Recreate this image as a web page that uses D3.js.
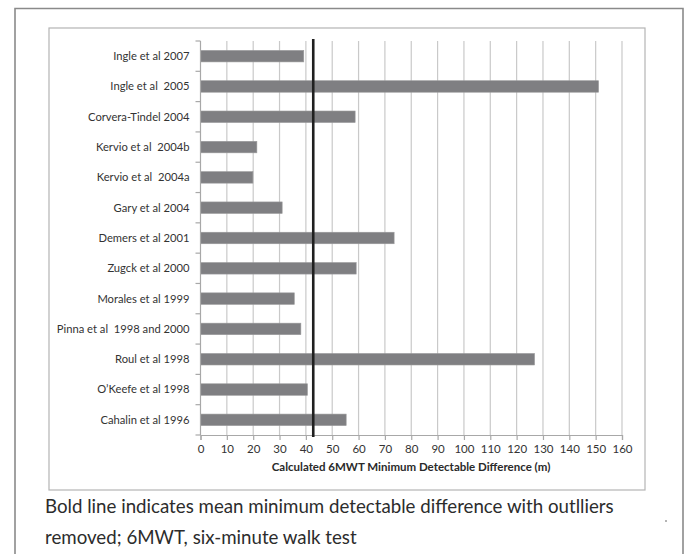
<!DOCTYPE html>
<html><head><meta charset="utf-8">
<script src="https://cdn.jsdelivr.net/npm/d3@7"></script>
<style>body{margin:0;background:#fff}svg{display:block}</style>
</head><body>
<svg id="c" width="687" height="554"></svg>
<script>
const studies = ["Ingle et al 2007","Ingle et al  2005","Corvera-Tindel 2004","Kervio et al  2004b","Kervio et al  2004a","Gary et al 2004","Demers et al 2001","Zugck et al 2000","Morales et al 1999","Pinna et al  1998 and 2000","Roul et al 1998","O\u2019Keefe et al 1998","Cahalin et al 1996"];
const mdd = [39.2,151.1,58.7,21.4,19.9,31.0,73.5,59.1,35.6,38.1,126.8,40.6,55.3];
const meanMDD = 42.8;
const xTicks = [0,10,20,30,40,50,60,70,80,90,100,110,120,130,140,150,160];
const xTitle = "Calculated 6MWT Minimum Detectable Difference (m)";
const caption = ["Bold line indicates mean minimum detectable difference with outlliers","removed; 6MWT, six-minute walk test"];

const svg = d3.select("#c");
svg.append("path").attr("d","M15,560 V8.5 H683 V560").attr("fill","none").attr("stroke","#8a8a8a").attr("stroke-width",1.6);
svg.append("rect").attr("x",49).attr("y",28).attr("width",596).attr("height",462).attr("fill","#fff").attr("stroke","#b4b4b4").attr("stroke-width",1.2);

const x = d3.scaleLinear().domain([0,160]).range([200.5,622]);
const yStep = d3.scaleBand().domain(studies).range([41,435]).padding(0);
const yBar = d3.scaleBand().domain(studies).range([41,435]).paddingInner(0.62).paddingOuter(0.31);

const font = "Lato, 'Open Sans', sans-serif";
svg.append("g").selectAll("line").data(xTicks.slice(1)).join("line")
  .attr("x1",d=>x(d)).attr("x2",d=>x(d)).attr("y1",41).attr("y2",435)
  .attr("stroke","#c9c9c9").attr("stroke-width",1.2);

svg.append("g").selectAll("rect").data(studies).join("rect")
  .attr("x",x(0)).attr("y",d=>yBar(d)).attr("height",yBar.bandwidth())
  .attr("width",(d,i)=>x(mdd[i])-x(0))
  .attr("fill","#7f7f82").attr("stroke","#9a9a9c").attr("stroke-width",0.6);

const xa = svg.append("g").attr("transform","translate(0,435)")
  .call(d3.axisBottom(x).tickValues(xTicks).tickSize(5).tickPadding(5).tickFormat(d3.format("d")));
xa.select(".domain").attr("stroke","#a8a8a8").attr("stroke-width",1.2);
xa.selectAll(".tick line").attr("stroke","#a8a8a8").attr("stroke-width",1.2);
xa.selectAll("text").attr("font-family",font).attr("font-size",11.5).attr("fill","#333");

const ya = svg.append("g").attr("transform","translate(200.5,0)");
ya.append("line").attr("x1",0).attr("x2",0).attr("y1",41).attr("y2",435).attr("stroke","#a8a8a8").attr("stroke-width",1.2);
ya.selectAll("line.t").data(studies.concat(["__end"])).join("line").attr("class","t")
  .attr("x1",-5).attr("x2",0)
  .attr("y1",(d,i)=> i<studies.length? yStep(d) : yStep.range()[1])
  .attr("y2",(d,i)=> i<studies.length? yStep(d) : yStep.range()[1])
  .attr("stroke","#a8a8a8").attr("stroke-width",1.2);
ya.selectAll("text").data(studies).join("text")
  .attr("x",-11).attr("y",d=>yStep(d)+yStep.bandwidth()/2).attr("dy","0.35em")
  .attr("text-anchor","end").attr("font-family",font).attr("font-size",11.2).attr("fill","#333")
  .style("white-space","pre").text(d=>d);

svg.append("line").attr("x1",x(meanMDD)).attr("x2",x(meanMDD)).attr("y1",39).attr("y2",437)
  .attr("stroke","#202020").attr("stroke-width",2.6);

svg.append("text").attr("x",411).attr("y",471).attr("text-anchor","middle")
  .attr("font-family",font).attr("font-weight","bold").attr("font-size",11.5).attr("fill","#2a2a2a").text(xTitle);

svg.append("g").selectAll("text").data(caption).join("text")
  .attr("x",45).attr("y",(d,i)=>513+i*31)
  .attr("font-family",font).attr("font-size",18.7).attr("fill","#2c2c2c").text(d=>d);
svg.append("circle").attr("cx",666).attr("cy",521).attr("r",0.8).attr("fill","#555");
</script>
</body></html>
